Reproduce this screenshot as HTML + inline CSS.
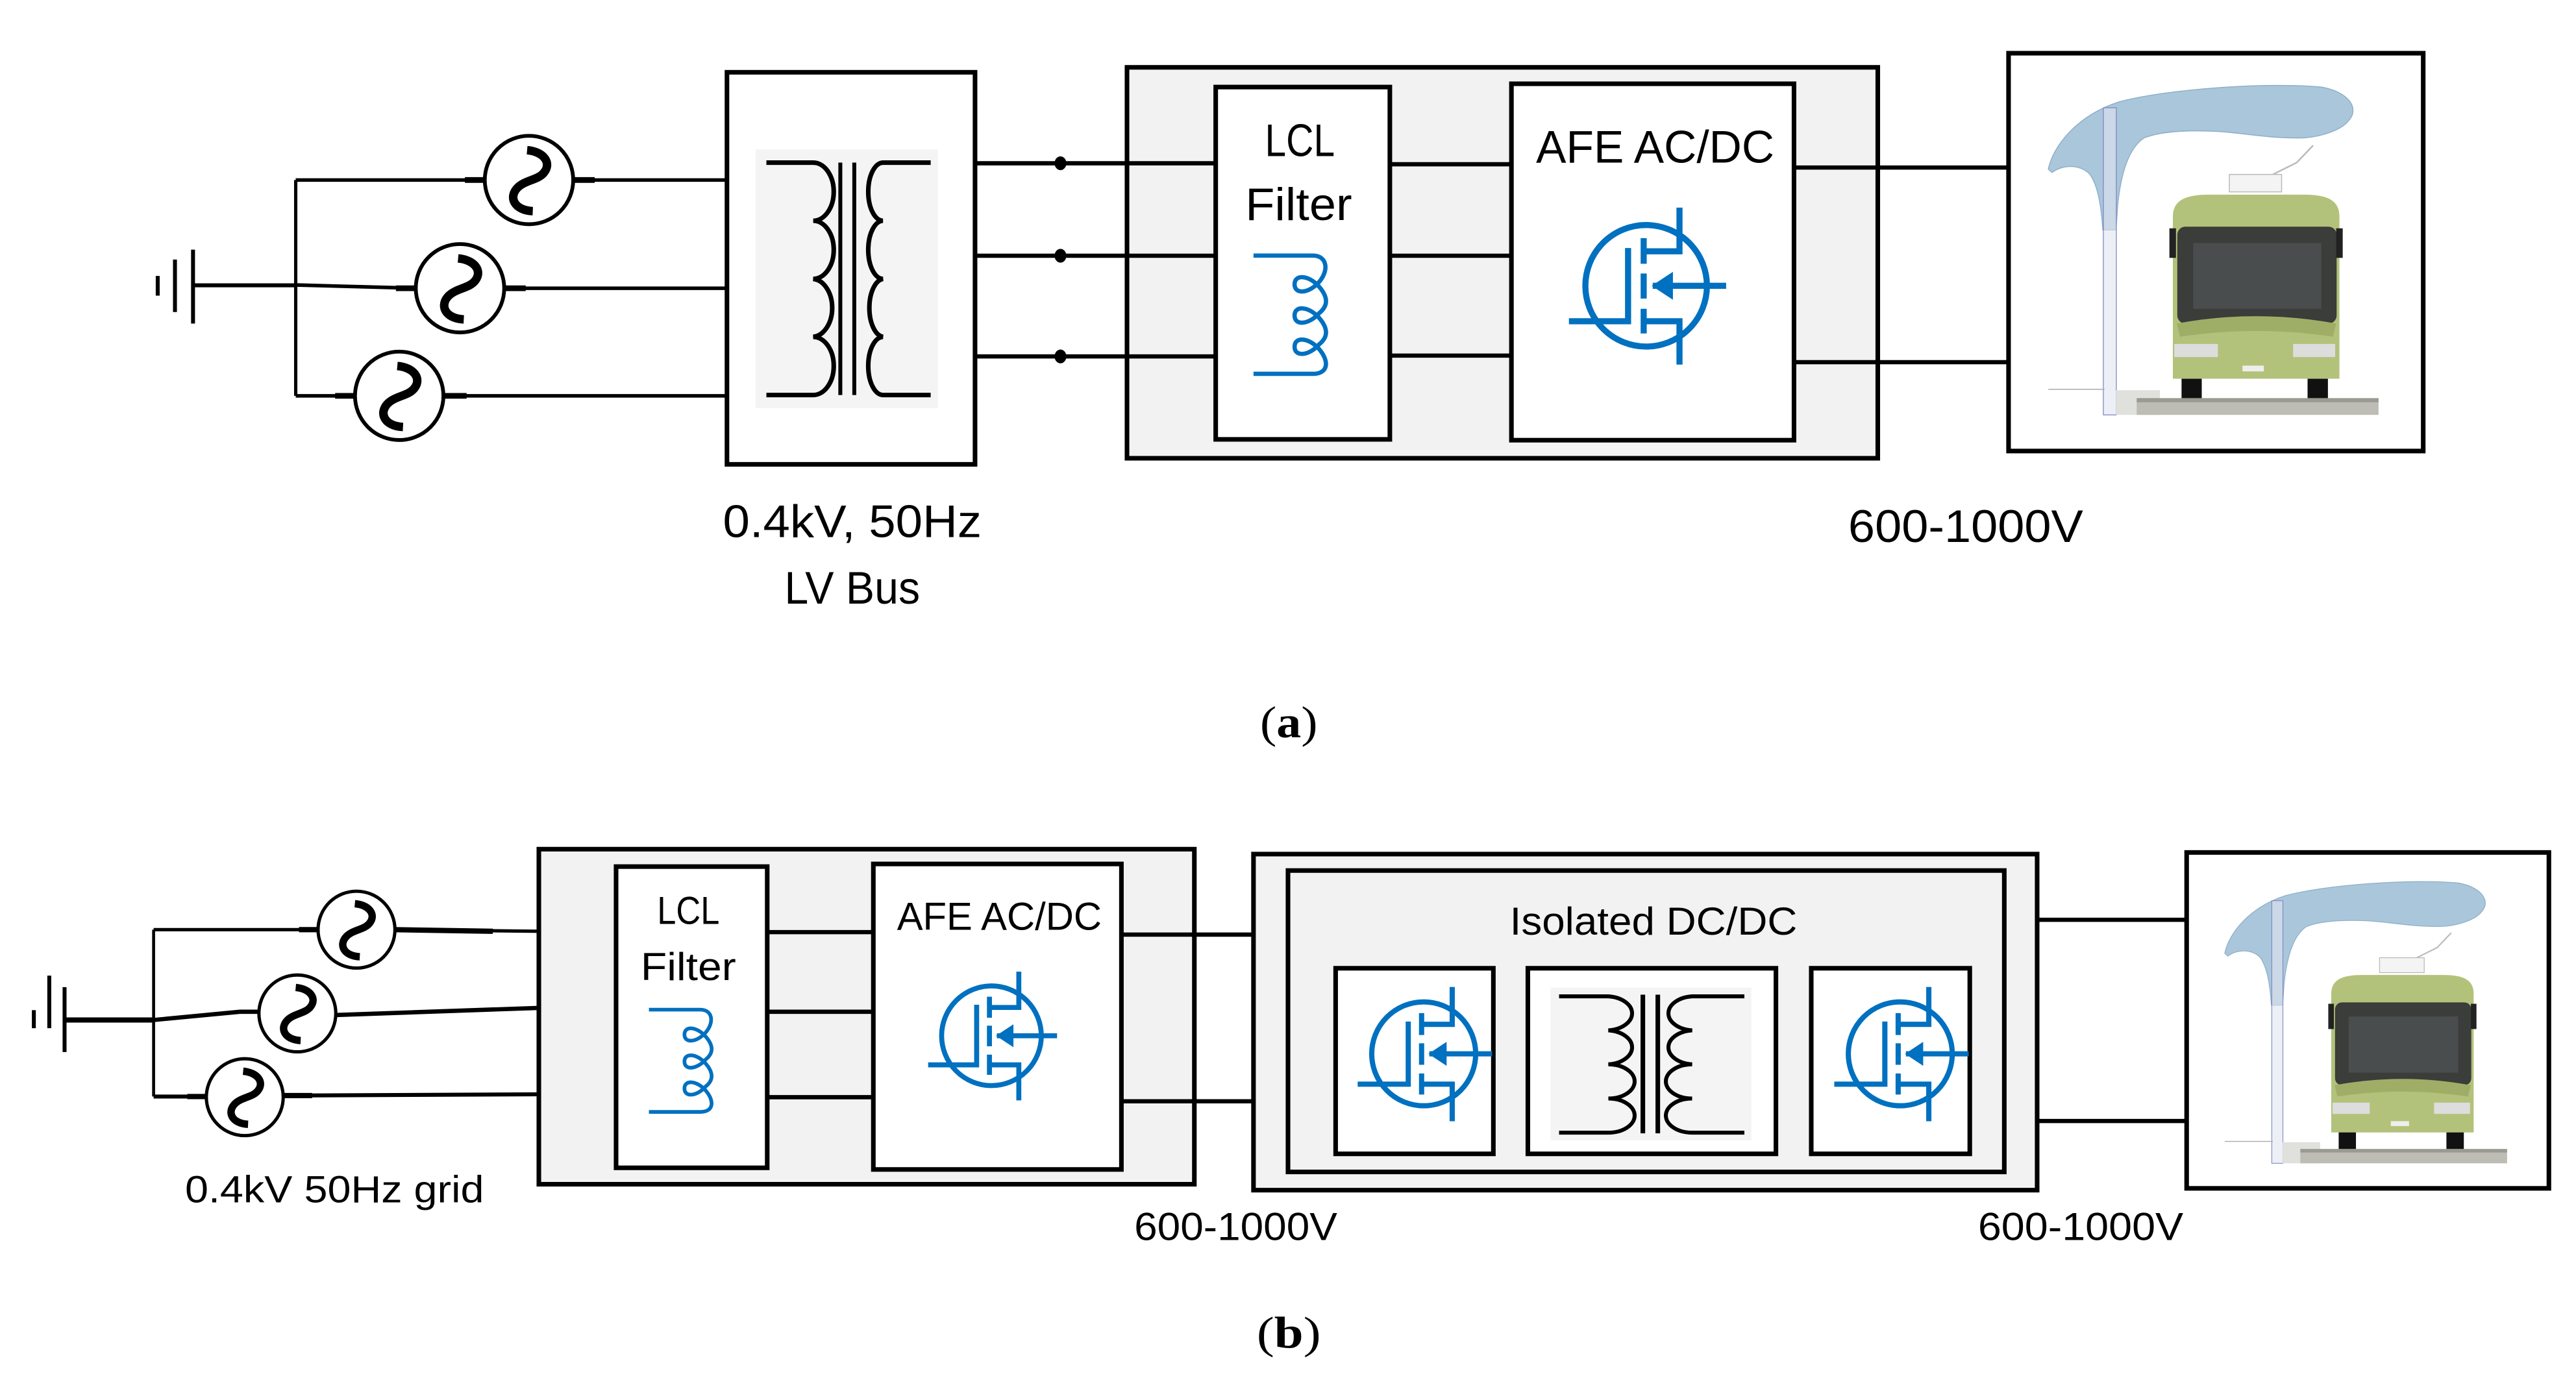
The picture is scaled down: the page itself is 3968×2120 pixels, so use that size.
<!DOCTYPE html>
<html><head><meta charset="utf-8"><style>
html,body{margin:0;padding:0;background:#fff;}
svg{display:block;}
text{font-family:"Liberation Sans",sans-serif;fill:#000;}
</style></head><body>
<svg width="3968" height="2120" viewBox="0 0 1568 837.75" preserveAspectRatio="none" xmlns="http://www.w3.org/2000/svg">
<defs>
<g id="mos" fill="none" stroke="#0070c0" stroke-width="3.7">
<circle cx="0" cy="0" r="37"/>
<path d="M20.3,-47.6 V-21 H-1.5"/>
<path d="M20.3,48 V21.6 H-1.5"/>
<path d="M-1.5,-29 V-13.4 M-1.5,-7.5 V7.8 M-1.5,14 V29"/>
<path d="M-47,21.6 H-11 V-23"/>
<path d="M4,0 H48.7"/>
<path d="M4.3,0 L15.8,-7.6 L15.8,7.6 Z" fill="#0070c0" stroke-width="1"/>
</g>
<g id="src">
<circle cx="0" cy="0" r="23.4" fill="#fff" stroke="#000" stroke-width="2"/>
<path d="M-1,-15.8 C8,-15 12,-9 8,-4 C5,0 -2,0 -6,4 C-11,9 -8,16 2,16.5" fill="none" stroke="#000" stroke-width="4.5"/>
</g>
<path id="ind" d="M0,0 H36 C45,0 46,9 40,16 C34,23 25,24 25,17.5 C25,11 34,12 40,19 C46,26 45,31 40,35 C34,42 25,43 25,36.5 C25,30 34,31 40,38 C46,45 45,50 40,54 C34,61 25,62 25,55.5 C25,49 34,50 40,57 C46,64 46,72 36,72 H0" fill="none" stroke="#0070c0" stroke-width="2.6"/>
<g id="bus">
<path d="M1246.8,103 C1250,88 1265,70 1290,62 C1320,54 1380,50 1413,53 C1430,56 1436,66 1430,73 C1425,80 1410,84 1399,84 C1380,84 1365,81 1350,80 C1330,79 1315,80 1305,84 C1296,90 1291,105 1289,125 L1288,140 L1280,140 C1279,125 1277,113 1272,106 C1266,100 1256,100 1249,105 Z" fill="#aac6db" stroke="#8fb0c8" stroke-width="0.6"/>
<rect x="1280.3" y="65.6" width="7.9" height="187" fill="#dfe4ee" stroke="#7d86c0" stroke-width="0.5" fill-opacity="0.6"/>
<path d="M1246.8,237 H1281" stroke="#aaa" stroke-width="0.6"/>
<path d="M1408,88.5 L1398,99 L1383.5,106.2" stroke="#bbb" stroke-width="1" fill="none"/>
<rect x="1357" y="106.2" width="31.8" height="10.6" fill="#f4f4f4" stroke="#bbb" stroke-width="0.6"/>
<path d="M1322.6,230.6 V132 C1322.6,122 1330,118.5 1345,118.5 H1402 C1417,118.5 1424,122 1424,132 V230.6 Z" fill="#b3c27a"/>
<rect x="1325.3" y="138" width="97" height="59" rx="5" fill="#3a3d3a"/>
<rect x="1335" y="148" width="78" height="40" fill="#55585a" opacity="0.6"/>
<rect x="1320.5" y="139" width="4" height="18" fill="#222"/>
<rect x="1422" y="139" width="4" height="18" fill="#222"/>
<path d="M1325,197 Q1373,188 1422,197 L1420,205 Q1373,198 1327,205 Z" fill="#9fae66"/>
<rect x="1323.5" y="209.4" width="26.5" height="8" fill="#ddd"/>
<rect x="1395.8" y="209.4" width="25.6" height="8" fill="#ddd"/>
<rect x="1365" y="222.6" width="13" height="3.5" fill="#eee"/>
<rect x="1327.9" y="230.6" width="12.3" height="12" fill="#111"/>
<rect x="1404.6" y="230.6" width="12.4" height="12" fill="#111"/>
<rect x="1288" y="237.6" width="26.7" height="15" fill="#e0e0dc"/>
<rect x="1300.6" y="242.4" width="147.2" height="10.2" fill="#bdbdb5"/>
<rect x="1300.6" y="242.4" width="147.2" height="2.5" fill="#9a9a92"/>
</g>
</defs>

<!-- ============ (a) ============ -->
<g stroke="#000" fill="none">
<path d="M96,168 V180" stroke-width="2.4"/>
<path d="M106.5,158 V190" stroke-width="2.4"/>
<path d="M117.5,152 V197" stroke-width="2.4"/>
<path d="M117.5,173.7 H180" stroke-width="2.4"/>
<path d="M180,109.6 V241" stroke-width="2"/>
<path d="M180,109.6 H296 M348.5,109.6 H442.5" stroke-width="2.2"/>
<path d="M283,109.6 H296 M348.5,109.6 H362" stroke-width="3.5"/>
<path d="M180,173.5 L254,175.5 M306,175.5 H442.5" stroke-width="2.2"/>
<path d="M241,175.5 H254 M306,175.5 H320" stroke-width="3.5"/>
<path d="M180,241 H217 M270,241 H442.5" stroke-width="2.2"/>
<path d="M204,241 H217 M270,241 H284" stroke-width="3.5"/>
</g>
<use href="#src" transform="translate(322,109.6) scale(1.15)"/>
<use href="#src" transform="translate(280,175.5) scale(1.15)"/>
<use href="#src" transform="translate(243,241) scale(1.15)"/>

<rect x="442.5" y="44" width="151" height="238.7" fill="#fff" stroke="#000" stroke-width="2.8"/>
<rect x="460" y="91" width="111" height="157.5" fill="#f4f4f4"/>
<g fill="none" stroke="#000" stroke-width="2.8">
<path d="M466.5,99 H495 A12.5,17.7 0 0 1 495,134.4 A12.5,17.7 0 0 1 495,169.8 A12.5,17.7 0 0 1 495,205.1 A12.5,17.7 0 0 1 495,240.5 H466.5"/>
<path d="M566.5,99 H537.5 A9,17.7 0 0 0 537.5,134.4 A9,17.7 0 0 0 537.5,169.8 A9,17.7 0 0 0 537.5,205.1 A9,17.7 0 0 0 537.5,240.5 H566.5"/>
<path d="M511.5,99 V240.5 M520,99 V240.5" stroke-width="2.4"/>
</g>

<rect x="686" y="41" width="457" height="238" fill="#f2f2f2" stroke="#000" stroke-width="2.8"/>
<g stroke="#000" stroke-width="2.6">
<path d="M593.5,99.4 H740 M593.5,155.7 H740 M593.5,217 H740"/>
<path d="M846,100 H920 M846,155.7 H920 M846,216.5 H920"/>
<path d="M1092,102 H1222.6 M1092,220.5 H1222.6"/>
</g>
<g fill="#000"><ellipse cx="645.5" cy="99.4" rx="3.6" ry="4.2"/><ellipse cx="645.5" cy="155.7" rx="3.6" ry="4.2"/><ellipse cx="645.5" cy="217" rx="3.6" ry="4.2"/></g>
<rect x="740" y="53" width="106" height="214.5" fill="#fff" stroke="#000" stroke-width="2.8"/>
<rect x="920" y="51" width="172" height="217" fill="#fff" stroke="#000" stroke-width="2.8"/>
<text x="770" y="95" font-size="28" textLength="42.5" lengthAdjust="spacingAndGlyphs">LCL</text>
<text x="758" y="134" font-size="28" textLength="65" lengthAdjust="spacingAndGlyphs">Filter</text>
<text x="935" y="99" font-size="28" textLength="145" lengthAdjust="spacingAndGlyphs">AFE AC/DC</text>
<use href="#ind" transform="translate(763,155.6)"/>
<use href="#mos" transform="translate(1002,174)"/>

<rect x="1222.6" y="32.4" width="252.4" height="242.2" fill="#fff" stroke="#000" stroke-width="2.8"/>
<use href="#bus"/>

<text x="440" y="327" font-size="28" textLength="157.5" lengthAdjust="spacingAndGlyphs">0.4kV, 50Hz</text>
<text x="477.5" y="367.5" font-size="28" textLength="82.5" lengthAdjust="spacingAndGlyphs">LV Bus</text>
<text x="1125" y="330" font-size="28" textLength="143" lengthAdjust="spacingAndGlyphs">600-1000V</text>
<text x="767" y="449" font-size="27" style="font-family:'Liberation Serif',serif" textLength="35" lengthAdjust="spacingAndGlyphs">(<tspan font-weight="bold">a</tspan>)</text>

<!-- ============ (b) ============ -->
<g stroke="#000" fill="none">
<path d="M20.6,615 V626" stroke-width="2.4"/>
<path d="M30,594 V626" stroke-width="2.4"/>
<path d="M39.3,601 V640.5" stroke-width="2.4"/>
<path d="M39.3,621 H93.5" stroke-width="3.2"/>
<path d="M93.5,566 V667.6" stroke-width="1.8"/>
<path d="M93.5,566 H194 M239.5,566 L375,567.5" stroke-width="2"/>
<path d="M182,566 H194 M239.5,566 L300,567" stroke-width="3.2"/>
<path d="M93.5,621 L146,616 H158 M203.5,618 L375,612" stroke-width="2.6"/>
<path d="M93.5,667.6 H126 M171.5,667 L375,666" stroke-width="2.4"/>
<path d="M114,667.6 H126 M171.5,667 H190" stroke-width="3.2"/>
</g>
<use href="#src" transform="translate(217,566)"/>
<use href="#src" transform="translate(181,617)"/>
<use href="#src" transform="translate(149,668)"/>

<rect x="328" y="517" width="399" height="204" fill="#f2f2f2" stroke="#000" stroke-width="2.8"/>
<g stroke="#000" stroke-width="2.6">
<path d="M467,567.5 H531.6 M467,616 H531.6 M467,668 H531.6"/>
<path d="M682.6,569 H784 M682.6,670.5 H784"/>
<path d="M1240,560 H1331 M1240,682.5 H1331"/>
</g>
<rect x="375" y="527.6" width="92" height="183.4" fill="#fff" stroke="#000" stroke-width="2.8"/>
<rect x="531.6" y="526" width="151" height="186" fill="#fff" stroke="#000" stroke-width="2.8"/>
<text x="400" y="562.5" font-size="24" textLength="38" lengthAdjust="spacingAndGlyphs">LCL</text>
<text x="390" y="596.7" font-size="24" textLength="58" lengthAdjust="spacingAndGlyphs">Filter</text>
<text x="546" y="566" font-size="24" textLength="124.6" lengthAdjust="spacingAndGlyphs">AFE AC/DC</text>
<use href="#ind" transform="translate(395,614.7) scale(0.865)"/>
<use href="#mos" transform="translate(603.5,630.6) scale(0.82)"/>

<rect x="763" y="520" width="477" height="204.6" fill="#f2f2f2" stroke="#000" stroke-width="2.8"/>
<rect x="784" y="530" width="436" height="183.5" fill="#f2f2f2" stroke="#000" stroke-width="2.8"/>
<text x="919" y="569" font-size="24" textLength="175" lengthAdjust="spacingAndGlyphs">Isolated DC/DC</text>
<rect x="813" y="589.5" width="96" height="113" fill="#fff" stroke="#000" stroke-width="2.8"/>
<rect x="930" y="589.5" width="151" height="113" fill="#fff" stroke="#000" stroke-width="2.8"/>
<rect x="1102.5" y="589.5" width="96.5" height="113" fill="#fff" stroke="#000" stroke-width="2.8"/>
<rect x="943.8" y="601.3" width="122.2" height="93" fill="#f4f4f4"/>
<g fill="none" stroke="#000" stroke-width="2.4">
<path d="M949,606.6 H979 A16,10.4 0 0 1 979,627.3 A16,10.4 0 0 1 979,648 A16,10.4 0 0 1 979,668.8 A16,10.4 0 0 1 979,689.6 H949"/>
<path d="M1061.8,606.6 H1030 A16,10.4 0 0 0 1030,627.3 A16,10.4 0 0 0 1030,648 A16,10.4 0 0 0 1030,668.8 A16,10.4 0 0 0 1030,689.6 H1061.8"/>
<path d="M1000,605.6 V690 M1009.1,605.6 V690" stroke-width="2.8"/>
</g>
<use href="#mos" transform="translate(866.6,641.6) scale(0.855)"/>
<use href="#mos" transform="translate(1156.7,641.6) scale(0.855)"/>

<rect x="1331" y="519" width="220.5" height="204.5" fill="#fff" stroke="#000" stroke-width="2.8"/>
<use href="#bus" transform="translate(1333,520.5) scale(0.855) translate(-1222,-33)"/>

<text x="112.6" y="732" font-size="23" textLength="182" lengthAdjust="spacingAndGlyphs">0.4kV 50Hz grid</text>
<text x="690.4" y="755" font-size="24" textLength="123.6" lengthAdjust="spacingAndGlyphs">600-1000V</text>
<text x="1204" y="755" font-size="24" textLength="125" lengthAdjust="spacingAndGlyphs">600-1000V</text>
<text x="765" y="820.6" font-size="27" style="font-family:'Liberation Serif',serif" textLength="39" lengthAdjust="spacingAndGlyphs">(<tspan font-weight="bold">b</tspan>)</text>
</svg>
</body></html>
